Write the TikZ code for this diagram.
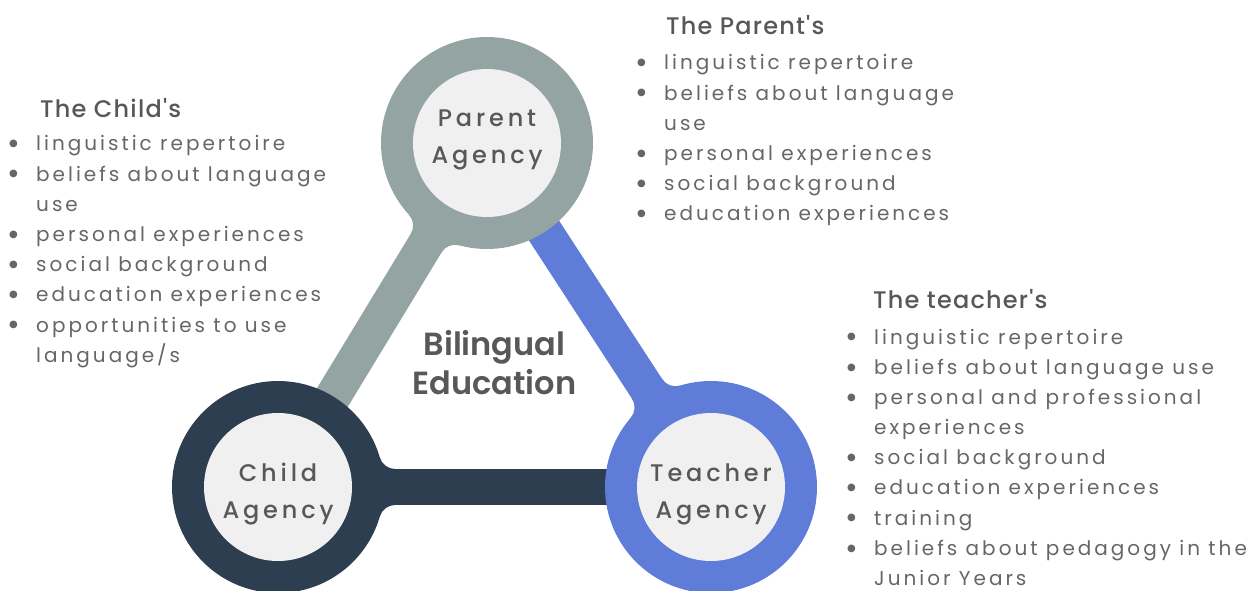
\documentclass[tikz,border=0pt]{standalone}
\usepackage{fontspec}
\usetikzlibrary{calc}
\setmainfont{Poppins}
\newfontfamily\listfont{Poppins}[LetterSpace=15]
\newfontfamily\headfont{Poppins Medium}[LetterSpace=5]
\newfontfamily\labelfont{Poppins Medium}[LetterSpace=16]
\newfontfamily\titlefont{Poppins SemiBold}
\newfontfamily\dotfont{DejaVu Sans}

\definecolor{ringgray}{HTML}{94A4A3}
\definecolor{ringnavy}{HTML}{2D3E50}
\definecolor{ringblue}{HTML}{5E7CD8}
\definecolor{hubfill}{HTML}{F0F0F0}
\definecolor{inktext}{HTML}{585858}
\definecolor{listtext}{HTML}{666666}

% bullet followed by an indent of fixed width
\newcommand\bl{\makebox[27pt][l]{\raisebox{4.2pt}{\dotfont\fontsize{10}{10}\selectfont ●}}}
\newcommand\cont{\hspace*{27pt}}

% rounded joint where a stem leaves its own ring
\newcommand\stemjoint[3]{%
  \pgfmathanglebetweenpoints{\pgfpointanchor{#1}{center}}{\pgfpointanchor{#2}{center}}%
  \let\stemangle\pgfmathresult
  \begin{scope}[shift={(#1)}, rotate=\stemangle]
    \fill[#3] (0,0) -- (101.80,29.54)
      arc[start angle=196.18, end angle=270, radius=16] -- (117.17,-18)
      arc[start angle=90, end angle=163.82, radius=16] -- cycle;
  \end{scope}}

\tikzset{
  stem/.style={line width=36pt, #1},
  ring/.style={circle, minimum size=212pt, inner sep=0pt, fill=#1},
  hub/.style={circle, minimum size=148pt, inner sep=0pt, fill=hubfill},
  hubtext/.style={anchor=base, inner sep=0pt, text=inktext,
    font=\labelfont\fontsize{24}{37}\selectfont},
  heading/.style={anchor=base west, inner sep=0pt, text=inktext,
    font=\headfont\fontsize{24}{30}\selectfont},
  itemlist/.style={anchor=base west, inner sep=0pt, text=listtext,
    font=\listfont\fontsize{20}{30.2}\selectfont},
  centretitle/.style={anchor=base, inner sep=0pt, text=inktext,
    font=\titlefont\fontsize{32}{39}\selectfont}
}

\begin{document}
\begin{tikzpicture}[x=1pt, y=1pt]
  \useasboundingbox (0,0) rectangle (1259,590);

  % ring centres
  \coordinate (P) at (487,447);
  \coordinate (C) at (278,103);
  \coordinate (T) at (711,103);

  % stems, each leaving its own ring
  \draw[stem=ringgray] (P) -- (C);
  \draw[stem=ringnavy] (C) -- (T);
  \draw[stem=ringblue] (T) -- (P);
  \stemjoint{P}{C}{ringgray}
  \stemjoint{C}{T}{ringnavy}
  \stemjoint{T}{P}{ringblue}

  % rings and hubs
  \node[ring=ringgray] (Pring) at (P) {};
  \node[ring=ringnavy] (Cring) at (C) {};
  \node[ring=ringblue] (Tring) at (T) {};
  \node[hub] (Phub) at (P) {};
  \node[hub] (Chub) at (C) {};
  \node[hub] (Thub) at (T) {};

  \node[hubtext] (Plabel) at ($(P)+(0,16)$) {\begin{tabular}[t]{@{}c@{}}Parent\\Agency\end{tabular}};
  \node[hubtext] (Clabel) at ($(C)+(0,6)$) {\begin{tabular}[t]{@{}c@{}}Child\\Agency\end{tabular}};
  \node[hubtext] (Tlabel) at ($(T)+(0,6)$) {\begin{tabular}[t]{@{}c@{}}Teacher\\Agency\end{tabular}};

  \node[centretitle] (mid) at (494.5,234) {\begin{tabular}[t]{@{}c@{}}Bilingual\\Education\end{tabular}};

  % the child's list
  \node[heading] (childhead) at (40,472) {The Child's};
  \node[itemlist] (childlist) at (9,439) {\begin{tabular}[t]{@{}l@{}}
    \bl linguistic repertoire\\
    \bl beliefs about language\\
    \cont use\\
    \bl personal experiences\\
    \bl social background\\
    \bl education experiences\\
    \bl opportunities to use\\
    \cont language/s
  \end{tabular}};

  % the parent's list
  \node[heading] (parenthead) at (666,555) {The Parent's};
  \node[itemlist] (parentlist) at (637,520) {\begin{tabular}[t]{@{}l@{}}
    \bl linguistic repertoire\\
    \bl beliefs about language\\
    \cont use\\
    \bl personal experiences\\
    \bl social background\\
    \bl education experiences
  \end{tabular}};

  % the teacher's list
  \node[heading] (teacherhead) at (873,281) {The teacher's};
  \node[itemlist] (teacherlist) at (847,246) {\begin{tabular}[t]{@{}l@{}}
    \bl linguistic repertoire\\
    \bl beliefs about language use\\
    \bl personal and professional\\
    \cont experiences\\
    \bl social background\\
    \bl education experiences\\
    \bl training\\
    \bl beliefs about pedagogy in the\\
    \cont Junior Years
  \end{tabular}};
\end{tikzpicture}
\end{document}
